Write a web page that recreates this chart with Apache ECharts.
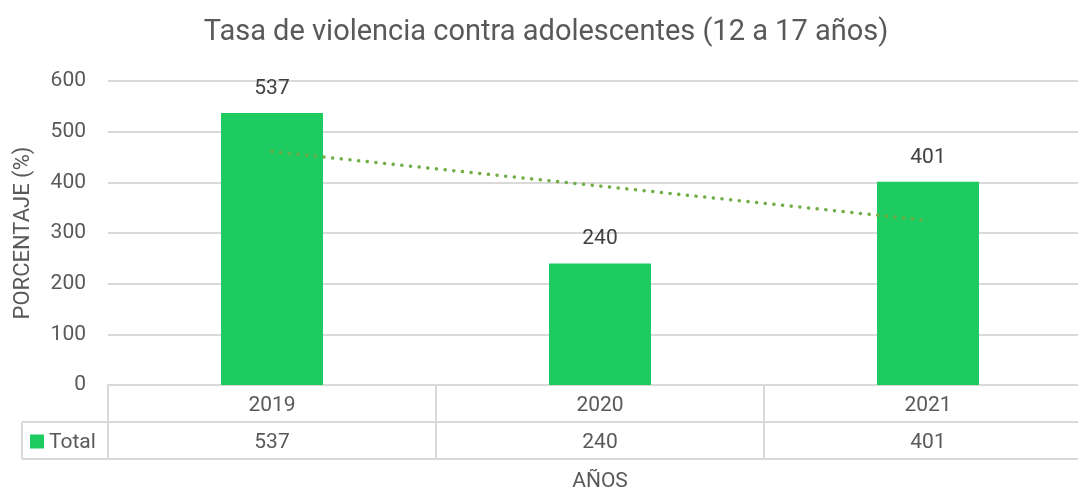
<!DOCTYPE html>
<html>
<head>
<meta charset="utf-8">
<script src="https://cdn.jsdelivr.net/npm/echarts@6/dist/echarts.min.js"></script>
<style>
  html, body { margin: 0; padding: 0; background: #fff; overflow: hidden; }
  #chart { width: 1092px; height: 492px; }
</style>
</head>
<body>
<div id="chart"></div>
<script>
const years = ["2019", "2020", "2021"];
const totals = [537, 240, 401];
const seriesName = "Total";
const yTicks = [0, 100, 200, 300, 400, 500, 600];

// linear trendline (least squares) from the bar values
function trend(vals) {
  const n = vals.length;
  const xs = vals.map((v, i) => i + 1);
  const mx = xs.reduce((a, b) => a + b, 0) / n;
  const my = vals.reduce((a, b) => a + b, 0) / n;
  let num = 0, den = 0;
  xs.forEach((x, i) => { num += (x - mx) * (vals[i] - my); den += (x - mx) * (x - mx); });
  const k = num / den;
  return xs.map(x => my + k * (x - mx));
}

const FONT = "Roboto";
const TXT = "#595959";
const LINE = "#d9d9d9";
const GREEN = "#1ECB61";

const chart = echarts.init(document.getElementById("chart"));

const option = {
  animation: false,
  textStyle: { fontFamily: FONT },
  title: {
    text: "Tasa de violencia contra adolescentes (12 a 17 años)",
    left: "center",
    top: 13,
    textStyle: { fontSize: 29, fontWeight: "normal", color: TXT, fontFamily: FONT }
  },
  grid: { left: 108, right: 0, top: 81, bottom: 107, containLabel: false, outerBoundsMode: "none" },
  xAxis: {
    type: "category",
    data: years,
    name: "AÑOS",
    nameLocation: "middle",
    nameGap: 86,
    nameTextStyle: { fontSize: 21, color: TXT },
    axisLine: { lineStyle: { color: LINE, width: 2 } },
    axisTick: { show: true, length: 74, interval: 0, lineStyle: { color: LINE, width: 2 } },
    axisLabel: { show: false }
  },
  yAxis: {
    type: "value",
    min: yTicks[0],
    max: yTicks[yTicks.length - 1],
    interval: 100,
    name: "PORCENTAJE (%)",
    nameLocation: "middle",
    nameRotate: 90,
    nameGap: 74,
    nameTextStyle: { fontSize: 22, color: TXT },
    axisLine: { show: false },
    axisTick: { show: false },
    axisLabel: { fontSize: 21, color: TXT, margin: 22 },
    splitLine: { lineStyle: { color: LINE, width: 2 } }
  },
  series: [
    {
      name: seriesName,
      type: "bar",
      data: totals,
      barWidth: 102,
      itemStyle: { color: GREEN },
      label: { show: true, position: "top", distance: 14, fontSize: 21, color: "#404040" }
    },
    {
      name: "trend",
      type: "line",
      data: trend(totals),
      symbol: "none",
      z: 3,
      lineStyle: { color: "#70AD47", width: 3.5, type: [0.1, 8.6], cap: "round" }
    }
  ]
};

chart.setOption(option);

// data table under the axis
const y0 = chart.convertToPixel({ yAxisIndex: 0 }, 0);
const rowH = 37;
const leftX = 22;
const rightX = 1092;
const gridLeft = 108;
const els = [];
years.forEach((yr, i) => {
  const cx = chart.convertToPixel({ xAxisIndex: 0 }, yr);
  els.push({
    type: "text", x: cx, y: y0 + rowH / 2 + 2,
    style: { text: yr, fontSize: 21, fill: TXT, fontFamily: FONT, align: "center", verticalAlign: "middle" }
  });
  els.push({
    type: "text", x: cx, y: y0 + rowH * 1.5 + 2,
    style: { text: String(totals[i]), fontSize: 21, fill: TXT, fontFamily: FONT, align: "center", verticalAlign: "middle" }
  });
});
els.push({ type: "line", shape: { x1: gridLeft, y1: y0 + rowH, x2: rightX, y2: y0 + rowH }, style: { stroke: LINE, lineWidth: 2 } });
els.push({ type: "line", shape: { x1: leftX, y1: y0 + rowH, x2: gridLeft, y2: y0 + rowH }, style: { stroke: LINE, lineWidth: 2 } });
els.push({ type: "line", shape: { x1: leftX, y1: y0 + rowH * 2, x2: rightX, y2: y0 + rowH * 2 }, style: { stroke: LINE, lineWidth: 2 } });
els.push({ type: "line", shape: { x1: leftX, y1: y0 + rowH, x2: leftX, y2: y0 + rowH * 2 }, style: { stroke: LINE, lineWidth: 2 } });
els.push({ type: "rect", shape: { x: 30, y: y0 + rowH * 1.5 - 6, width: 14, height: 14 }, style: { fill: GREEN } });
els.push({
  type: "text", x: 49, y: y0 + rowH * 1.5 + 2,
  style: { text: seriesName, fontSize: 21, fill: TXT, fontFamily: FONT, align: "left", verticalAlign: "middle" }
});

chart.setOption({ graphic: { elements: els } });
</script>
</body>
</html>
